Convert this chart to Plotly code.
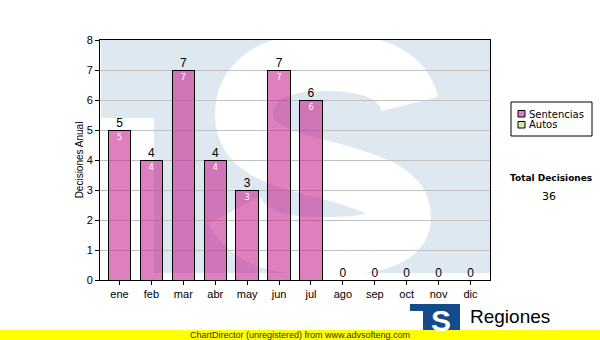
import plotly.graph_objects as go

months = ["ene", "feb", "mar", "abr", "may", "jun", "jul", "ago", "sep", "oct", "nov", "dic"]
sentencias = [5, 4, 7, 4, 3, 7, 6, 0, 0, 0, 0, 0]
autos = [0, 0, 0, 0, 0, 0, 0, 0, 0, 0, 0, 0]
series_names = ["Sentencias", "Autos"]
series_colors = ["rgba(198,36,143,0.58)", "#d8eaa6"]
legend_swatch = ["#e080c0", "#d8eaa6"]
y_ticks = [0, 1, 2, 3, 4, 5, 6, 7, 8]
y_title = "Decisiones Anual"
total_label = "Total Decisiones"
total_value = sum(sentencias) + sum(autos)

W, H = 600, 340
L, R, T, B = 100, 110, 40, 60
PW, PH = W - L - R, H - T - B


def fx(px):
    return (px - L) / PW


def fy(py):
    return (H - B - py) / PH


def path(cmds):
    out = []
    for c in cmds:
        if isinstance(c, str):
            out.append(c)
        else:
            out.append(f"{fx(c[0]):.4f},{fy(c[1]):.4f}")
    return " ".join(out)


def label(text, px, py, size, family="DejaVu Sans", color="black", xanchor="center"):
    return dict(text=text, x=fx(px), y=fy(py), xref="paper", yref="paper",
                xanchor=xanchor, yanchor="middle", showarrow=False,
                font=dict(size=size, family=family, color=color))


fig = go.Figure()

for name, vals, col in zip(series_names, [sentencias, autos], series_colors):
    fig.add_trace(go.Bar(
        name=name, x=months, y=vals,
        marker=dict(color=col, line=dict(color="black", width=1)),
        text=[str(v) if v > 0 else "" for v in vals],
        textposition="inside", insidetextanchor="end",
        textfont=dict(color="white", size=8, family="DejaVu Sans"),
        width=0.7, hoverinfo="x+y", showlegend=False,
    ))
fig.add_trace(go.Scatter(
    x=months, y=sentencias, mode="text", text=[str(v) for v in sentencias],
    textposition="top center", textfont=dict(color="black", size=12, family="Liberation Sans"),
    showlegend=False, hoverinfo="skip", cliponaxis=False,
))

shapes = []
# watermark square
shapes.append(dict(type="rect", xref="paper", yref="paper", layer="below",
                   x0=fx(101), x1=fx(490), y0=fy(273), y1=fy(40),
                   fillcolor="#dee8f1", line=dict(width=0)))
shapes.append(dict(type="rect", xref="paper", yref="paper", layer="below",
                   x0=fx(101), x1=fx(154), y0=fy(281), y1=fy(118),
                   fillcolor="white", line=dict(width=0)))
s_path = path(["M", (410, 104), "C", (402, 72), (368, 62), (324, 62),
               "C", (266, 62), (244, 86), (244, 114),
               "C", (244, 150), (280, 158), (326, 170),
               "C", (378, 184), (402, 194), (402, 217),
               "C", (402, 240), (370, 246), (322, 246),
               "C", (272, 246), (248, 236), (234, 210)])
shapes.append(dict(type="path", xref="paper", yref="paper", layer="below",
                   path=s_path, line=dict(color="white", width=58)))
# yellow footer
shapes.append(dict(type="rect", xref="paper", yref="paper", layer="above",
                   x0=fx(0), x1=fx(600), y0=fy(340), y1=fy(330),
                   fillcolor="#ffff00", line=dict(width=0)))
# bottom logo
shapes.append(dict(type="rect", xref="paper", yref="paper", layer="below",
                   x0=fx(410), x1=fx(460), y0=fy(330), y1=fy(304),
                   fillcolor="#134b8d", line=dict(width=0)))
shapes.append(dict(type="rect", xref="paper", yref="paper", layer="below",
                   x0=fx(410), x1=fx(423), y0=fy(330), y1=fy(311),
                   fillcolor="white", line=dict(width=0)))
# custom legend box
shapes.append(dict(type="rect", xref="paper", yref="paper", layer="above",
                   x0=fx(511), x1=fx(592), y0=fy(136), y1=fy(102),
                   fillcolor="rgba(0,0,0,0)", line=dict(color="black", width=1)))
legend_rows = [114, 125]
for i, (name, col) in enumerate(zip(series_names, legend_swatch)):
    cy = legend_rows[i]
    shapes.append(dict(type="rect", xref="paper", yref="paper", layer="above",
                       x0=fx(518), x1=fx(525), y0=fy(cy + 3), y1=fy(cy - 3.5),
                       fillcolor=col, line=dict(color="black", width=1)))

annotations = [
    label(f"<b>{total_label}</b>", 551, 178, 9),
    label(str(total_value), 549, 196, 11),
    label("ChartDirector (unregistered) from www.advsofteng.com", 300, 335, 9,
          family="Liberation Sans", color="#333300"),
    label("<b>S</b>", 441, 320, 30, family="Liberation Sans", color="white"),
    label("Regiones", 468, 316, 19, family="Liberation Sans", xanchor="left"),
]
for i, name in enumerate(series_names):
    annotations.append(label(name, 527, legend_rows[i], 10, xanchor="left"))

fig.update_layout(
    width=W, height=H, margin=dict(l=L, r=R, t=T, b=B, pad=0, autoexpand=False),
    paper_bgcolor="white", plot_bgcolor="white",
    barmode="stack", bargap=0.3,
    showlegend=False,
    shapes=shapes, annotations=annotations,
    xaxis=dict(showline=True, linecolor="black", linewidth=1, mirror=True,
               ticks="outside", ticklen=4, tickcolor="black",
               tickfont=dict(size=11, family="Liberation Sans", color="black"),
               showgrid=False, fixedrange=True),
    yaxis=dict(range=[0, 8], tickvals=y_ticks, showline=True, linecolor="black", linewidth=1, mirror=True,
               ticks="outside", ticklen=4, tickcolor="black",
               tickfont=dict(size=11, family="Liberation Sans", color="black"),
               showgrid=True, gridcolor="#c0c0c0", gridwidth=1, zeroline=False,
               title=dict(text=y_title, standoff=1,
                          font=dict(size=10, family="Liberation Sans", color="black")),
               fixedrange=True),
)

fig.write_html("out.html", config={"displayModeBar": False})
